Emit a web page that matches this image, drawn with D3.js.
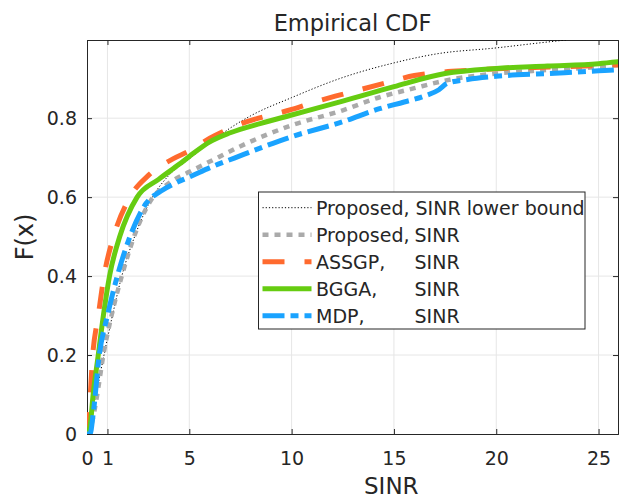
<!DOCTYPE html>
<html>
<head>
<meta charset="utf-8">
<script src="https://cdn.jsdelivr.net/npm/d3@7"></script>
<style>
  body { margin: 0; background: #fff; }
  text { font-family: "DejaVu Sans", sans-serif; fill: #262626; }
</style>
</head>
<body>
<div id="chart"></div>
<script>
// series: [SINR, F(x)]
const lowerBound = [[0, 0], [0.4, 0.09], [0.83, 0.2], [1.2, 0.29], [1.7, 0.4], [2.4, 0.51], [3.2, 0.6], [4.0, 0.655], [5, 0.697], [6, 0.737], [7, 0.775], [8, 0.806], [10, 0.852], [12.5, 0.903], [15, 0.94], [17.1, 0.963], [20, 0.978], [22, 0.99], [23.4, 0.998]]
const proposed = [[0, 0], [0.25, 0.03], [0.5, 0.1], [0.8, 0.2], [1.2, 0.3], [1.7, 0.4], [2.3, 0.5], [3.1, 0.59], [4.0, 0.635], [5, 0.664], [6, 0.69], [7.5, 0.729], [10, 0.782], [12.5, 0.82], [14.3, 0.853], [16, 0.876], [17.5, 0.895], [18, 0.9], [20, 0.913], [22.5, 0.922], [25, 0.93], [26, 0.935]]
const assgp = [[0, 0], [0.1, 0.05], [0.28, 0.2], [0.55, 0.3], [0.83, 0.4], [1.3, 0.5], [2.1, 0.6], [3, 0.655], [4.2, 0.697], [5, 0.717], [6, 0.749], [7.5, 0.785], [10, 0.822], [11.2, 0.842], [12.9, 0.866], [14.8, 0.892], [16, 0.908], [19, 0.922], [23, 0.93], [26, 0.935]]
const bgga = [[0, 0], [0.15, 0.02], [0.3, 0.1], [0.55, 0.2], [0.8, 0.3], [1.1, 0.4], [1.6, 0.5], [2.45, 0.6], [3.5, 0.645], [4.5, 0.683], [5, 0.703], [6, 0.74], [7, 0.763], [8.5, 0.787], [10, 0.808], [12.5, 0.843], [15, 0.88], [17.5, 0.913], [20, 0.926], [22.5, 0.932], [25, 0.938], [26, 0.943]]
const mdp = [[0, 0], [0.15, 0], [0.3, 0.05], [0.6, 0.2], [1.0, 0.3], [1.48, 0.4], [2.1, 0.5], [2.9, 0.585], [3.6, 0.615], [4.3, 0.635], [5, 0.651], [6.2, 0.679], [7.2, 0.699], [8.6, 0.727], [10, 0.753], [12.5, 0.791], [14.3, 0.824], [15.5, 0.841], [16.5, 0.856], [17.2, 0.872], [17.6, 0.888], [18.6, 0.898], [20, 0.906], [22.5, 0.913], [25, 0.92], [26, 0.923]]

const seriesNames = ['Proposed, SINR lower bound', 'Proposed,', 'ASSGP,', 'BGGA,', 'MDP,']
const seriesData = [lowerBound, proposed, assgp, bgga, mdp]
const xTicks = [0, 1, 5, 10, 15, 20, 25]
const yTicks = [0, 0.2, 0.4, 0.6, 0.8]

const styles = [
  { color: '#000000', width: 1, dash: '1.2,2' },
  { color: '#aaaaaa', width: 4.5, dash: '6,6' },
  { color: '#ff6a2e', width: 5, dash: '22,20' },
  { color: '#66cc11', width: 5, dash: null },
  { color: '#1aa3ff', width: 5, dash: '22,6,8,6' }
]

const W = 621
const H = 499
const margin = { top: 40, left: 87, right: 3, bottom: 65 }
const width = W - margin.left - margin.right
const height = H - margin.top - margin.bottom

const svgRoot = d3
  .select('#chart')
  .append('svg')
  .attr('width', W)
  .attr('height', H)

const svg = svgRoot
  .append('g')
  .attr('transform', 'translate(' + margin.left + ',' + margin.top + ')')

const x = d3.scaleLinear().domain([0, 25.95]).range([0, width])
const y = d3.scaleLinear().domain([0, 0.998]).range([height, 0])

// grid
svg
  .selectAll('.xgrid')
  .data(xTicks.filter(d => d > 0))
  .enter()
  .append('line')
  .attr('x1', d => x(d))
  .attr('x2', d => x(d))
  .attr('y1', 0)
  .attr('y2', height)
  .attr('stroke', '#e6e6e6')
  .attr('stroke-width', 1)

svg
  .selectAll('.ygrid')
  .data(yTicks.filter(d => d > 0))
  .enter()
  .append('line')
  .attr('x1', 0)
  .attr('x2', width)
  .attr('y1', d => y(d))
  .attr('y2', d => y(d))
  .attr('stroke', '#e6e6e6')
  .attr('stroke-width', 1)

// axes (MATLAB style box with inward ticks)
const tickLen = 5
const axisColor = '#262626'

const xBottom = svg
  .append('g')
  .attr('transform', `translate(0,${height})`)
  .call(d3.axisBottom(x).tickValues(xTicks).tickSize(-tickLen).tickPadding(18).tickFormat(d3.format('d')))
const xTop = svg
  .append('g')
  .call(d3.axisTop(x).tickValues(xTicks).tickSize(-tickLen).tickFormat(''))
const yLeft = svg
  .append('g')
  .call(d3.axisLeft(y).tickValues(yTicks).tickSize(-tickLen).tickPadding(10).tickFormat(d => d === 0 ? '0' : d3.format('.1f')(d)))
const yRight = svg
  .append('g')
  .attr('transform', `translate(${width},0)`)
  .call(d3.axisRight(y).tickValues(yTicks).tickSize(-tickLen).tickFormat(''))

;[xBottom, xTop, yLeft, yRight].forEach(g => {
  g.select('.domain').attr('stroke', axisColor).attr('stroke-width', 1)
  g.selectAll('.tick line').attr('stroke', axisColor)
  g.selectAll('.tick text')
    .attr('fill', axisColor)
    .style('font-family', '"DejaVu Sans", sans-serif')
    .style('font-size', '19px')
})

// curves
svg
  .append('clipPath')
  .attr('id', 'clip')
  .append('rect')
  .attr('width', width)
  .attr('height', height)

const line = d3
  .line()
  .x(d => x(d[0]))
  .y(d => y(d[1]))
  .curve(d3.curveMonotoneX)

const curves = svg.append('g').attr('clip-path', 'url(#clip)')

seriesData.forEach((data, i) => {
  curves
    .append('path')
    .datum(data)
    .attr('d', line)
    .attr('fill', 'none')
    .attr('stroke', styles[i].color)
    .attr('stroke-width', styles[i].width)
    .attr('stroke-dasharray', styles[i].dash)
})

// title and labels
svgRoot
  .append('text')
  .attr('x', margin.left + width / 2)
  .attr('y', 31)
  .attr('text-anchor', 'middle')
  .style('font-size', '22.5px')
  .text('Empirical CDF')

svgRoot
  .append('text')
  .attr('x', 364)
  .attr('y', 494)
  .style('font-size', '23px')
  .text('SINR')

svgRoot
  .append('text')
  .attr('transform', `translate(33,${margin.top + height / 2}) rotate(-90)`)
  .attr('text-anchor', 'middle')
  .style('font-size', '24px')
  .text('F(x)')

// legend
const legend = svgRoot.append('g').attr('transform', 'translate(258.5,192)')

legend
  .append('rect')
  .attr('width', 326.5)
  .attr('height', 137)
  .attr('fill', 'white')
  .attr('stroke', axisColor)
  .attr('stroke-width', 1)

const rowH = 27
seriesNames.forEach((name, i) => {
  const cy = 15.7 + i * rowH
  legend
    .append('line')
    .attr('x1', 4)
    .attr('x2', 53)
    .attr('y1', cy)
    .attr('y2', cy)
    .attr('stroke', styles[i].color)
    .attr('stroke-width', styles[i].width)
    .attr('stroke-dasharray', styles[i].dash)

  const t = legend
    .append('text')
    .attr('x', 57.5)
    .attr('y', cy + 7)
    .style('font-size', '19px')
  t.append('tspan').text(name)
  if (i > 0) {
    t.append('tspan').attr('x', 156).text('SINR')
  }
})
</script>
</body>
</html>
